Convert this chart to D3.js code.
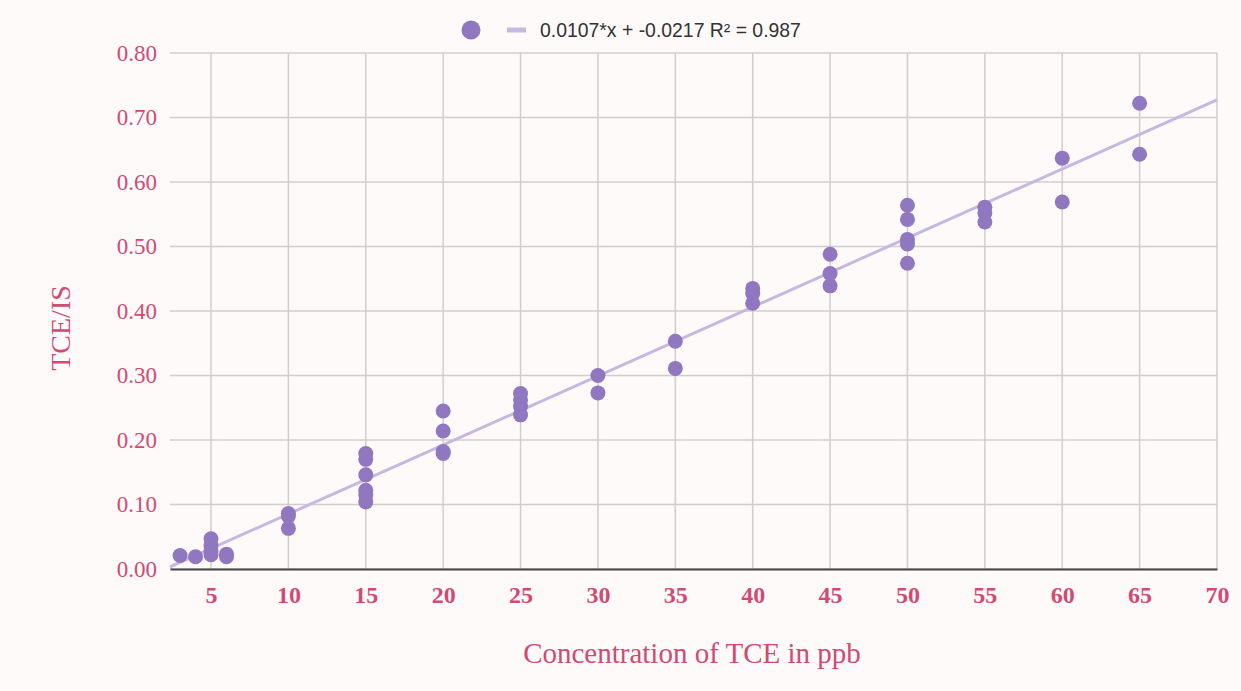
<!DOCTYPE html>
<html><head><meta charset="utf-8">
<script src="https://cdn.jsdelivr.net/npm/d3@7"></script>
<style>body{margin:0;background:#fefafa;}svg{display:block;}</style>
</head><body>
<svg id="chart" width="1241" height="691"></svg>
<script>
const concentration = [3,4,5,5,5,5,6,6,10,10,10,15,15,15,15,15,15,20,20,20,20,25,25,25,25,30,30,35,35,40,40,40,45,45,45,50,50,50,50,50,55,55,55,60,60,65,65];
const ratio = [0.021,0.019,0.047,0.036,0.027,0.022,0.023,0.019,0.086,0.082,0.063,0.179,0.170,0.146,0.122,0.115,0.104,0.245,0.214,0.182,0.179,0.272,0.262,0.252,0.239,0.300,0.273,0.353,0.311,0.435,0.427,0.412,0.488,0.458,0.439,0.564,0.542,0.511,0.504,0.474,0.561,0.552,0.538,0.637,0.569,0.722,0.643];
const slope = 0.0107, intercept = -0.0217;
const legendLabel = "0.0107*x + -0.0217 R\u00b2 = 0.987";
const xTicks = [5,10,15,20,25,30,35,40,45,50,55,60,65,70];
const yTicks = [0,0.1,0.2,0.3,0.4,0.5,0.6,0.7,0.8];
const xTitle = "Concentration of TCE in ppb";
const yTitle = "TCE/IS";

const svg = d3.select("#chart");
svg.append("rect").attr("width",1241).attr("height",691).attr("fill","#fefafa");
const L=170,R=1217,T=53,B=569;
const x = d3.scaleLinear().domain([2.35,70]).range([L,R]);
const y = d3.scaleLinear().domain([0,0.8]).range([B,T]);
const pink="#d24a72", grid="#d3cccc", pt="#9177c0";

// grid
svg.append("g").selectAll("line").data(yTicks).join("line")
  .attr("x1",L).attr("x2",R).attr("y1",d=>y(d)).attr("y2",d=>y(d))
  .attr("stroke",grid).attr("stroke-width",1.5);
svg.append("g").selectAll("line").data(xTicks).join("line")
  .attr("x1",d=>x(d)).attr("x2",d=>x(d)).attr("y1",T).attr("y2",B)
  .attr("stroke",grid).attr("stroke-width",1.5);

// axes
const xAxis = svg.append("g").attr("transform",`translate(0,${B})`)
  .call(d3.axisBottom(x).tickValues(xTicks).tickSize(0).tickPadding(17).tickFormat(d3.format("d")));
xAxis.select(".domain").attr("stroke","#444").attr("stroke-width",2);
xAxis.selectAll("text").attr("fill",pink).attr("font-family","'Liberation Serif',serif")
  .attr("font-size",24).attr("font-weight","bold");
const yAxis = svg.append("g").attr("transform",`translate(${L},0)`)
  .call(d3.axisLeft(y).tickValues(yTicks).tickSize(0).tickPadding(13).tickFormat(d3.format(".2f")));
yAxis.select(".domain").remove();
yAxis.selectAll("text").attr("fill",pink).attr("font-family","'Liberation Serif',serif").attr("font-size",23);

// regression line
const xd = x.domain();
svg.append("line").attr("x1",x(xd[0])).attr("y1",y(slope*xd[0]+intercept))
  .attr("x2",x(xd[1])).attr("y2",y(slope*xd[1]+intercept))
  .attr("stroke","#c6b8e1").attr("stroke-width",3);

// points
svg.append("g").selectAll("circle").data(concentration.map((c,i)=>[c,ratio[i]])).join("circle")
  .attr("cx",d=>x(d[0])).attr("cy",d=>y(d[1])).attr("r",7.5).attr("fill",pt);

// titles
svg.append("text").attr("x",692).attr("y",663).attr("text-anchor","middle")
  .attr("fill",pink).attr("font-family","'Liberation Serif',serif").attr("font-size",29).text(xTitle);
svg.append("text").attr("transform",`translate(70,328) rotate(-90)`).attr("text-anchor","middle")
  .attr("fill",pink).attr("font-family","'Liberation Serif',serif").attr("font-size",28).text(yTitle);

// legend
svg.append("circle").attr("cx",471).attr("cy",30).attr("r",9.5).attr("fill",pt);
svg.append("line").attr("x1",507).attr("x2",526).attr("y1",30).attr("y2",30).attr("stroke","#c6b8e1").attr("stroke-width",5);
svg.append("text").attr("x",540).attr("y",37).attr("fill","#333")
  .attr("font-family","'Liberation Sans',Arial,sans-serif").attr("font-size",19.4).text(legendLabel);
</script>
</body></html>
